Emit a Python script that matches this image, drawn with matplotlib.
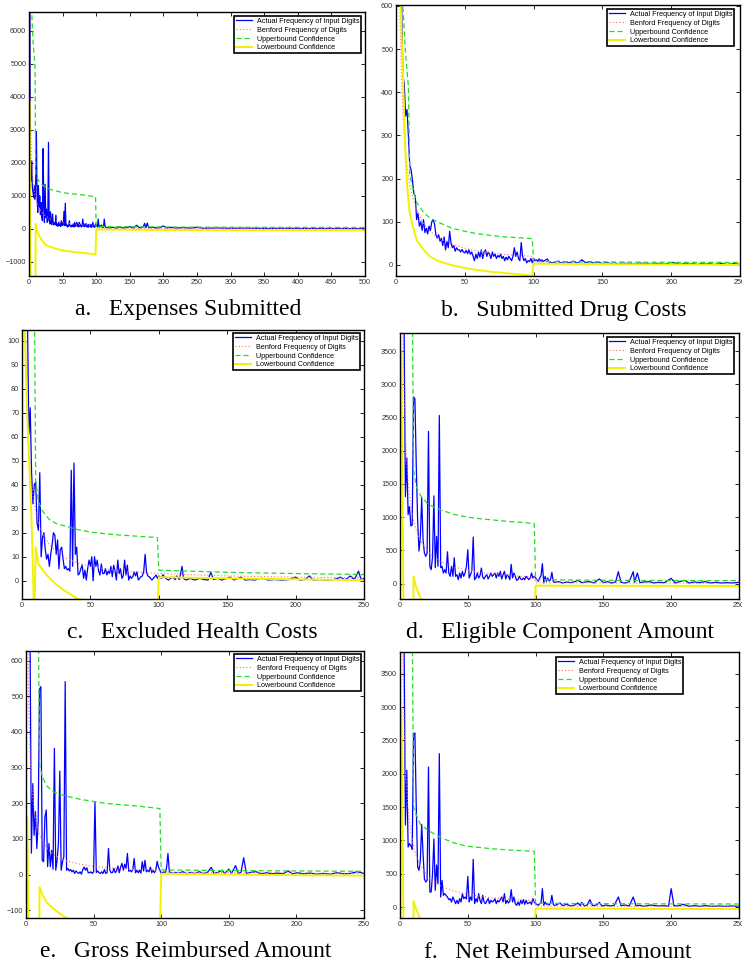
import matplotlib
matplotlib.use("Agg")
import matplotlib.pyplot as plt

# shared x positions for the smooth curves (Benford + confidence bounds)
curve_x = [1, 2, 3, 4, 5, 6, 7, 8, 9, 10, 12, 15, 20, 25, 30, 40, 50, 60,
           70, 80, 90, 99, 100, 150, 200, 250]
curve_x_a = curve_x + [300, 400, 500]

labels = ['Actual Frequency of Input Digits', 'Benford Frequency of Digits',
          'Upperbound Confidence', 'Lowerbound Confidence']

# ---- a. Expenses Submitted ----
a_actual = [9500, 2100, 1450, 2060, 1250, 1100, 950, 1300, 900, 1500,
            2950, 1000, 500, 1320, 650, 1000, 430, 800, 350, 250,
            2430, 700, 200, 1350, 350, 600, 200, 250, 2620, 300,
            150, 520, 180, 130, 450, 220, 120, 180, 130, 420,
            100, 150, 80, 200, 100, 150, 80, 250, 100, 200,
            120, 530, 100, 780, 100, 150, 60, 100, 80, 250,
            100, 80, 60, 120, 70, 150, 60, 200, 80, 120,
            200, 80, 150, 60, 200, 90, 120, 60, 100, 300,
            80, 150, 70, 100, 160, 60, 120, 50, 140, 100,
            60, 140, 50, 80, 200, 60, 100, 50, 150, 80,
            120, 60, 300, 80, 60, 100, 70, 120, 60, 40,
            80, 300, 100, 60, 40]
a_tail_x = [120, 125, 130, 135, 140, 145, 150, 155, 160, 165, 170, 172, 174,
            176, 178, 185, 190, 195, 200, 205, 210, 220, 230, 240, 250, 260,
            280, 300, 320, 350, 380, 400, 450, 500]
a_tail_y = [30, 50, 20, 60, 30, 40, 70, 30, 110, 30, 60, 170, 40,
            180, 40, 50, 30, 40, 90, 30, 50, 30, 40, 25, 50, 20,
            30, 20, 25, 15, 20, 15, 12, 10]
a_benford = [6600, 3870, 2750, 2130, 1740, 1470, 1280, 1120, 1010, 910, 770,
             630, 480, 390, 320, 245, 195, 165, 140, 120, 110, 95, 30, 20,
             15, 12, 10, 8, 6]
a_upper = [14000, 10500, 8200, 6600, 6100, 5700, 5400, 5150, 4900, 1700,
           1550, 1440, 1330, 1255, 1210, 1150, 1100, 1070, 1050, 1030, 1000,
           980, 75, 65, 60, 55, 52, 48, 45]
a_lower = [3850, -900, -2200, -3000, -3400, -3700, -3900, -4000, -4100, 150,
           -50, -200, -370, -480, -530, -600, -650, -680, -705, -725, -745,
           -775, -15, -25, -30, -33, -36, -38, -40]

# ---- b. Submitted Drug Costs ----
b_actual = [1900, 1100, 750, 620, 440, 420, 345, 360, 300, 230,
            220, 195, 165, 160, 105, 120, 90, 100, 80, 105,
            75, 85, 72, 90, 80, 100, 105, 95, 70, 62,
            70, 55, 62, 45, 65, 35, 55, 40, 78, 50,
            40, 45, 32, 40, 35, 35, 30, 36, 30, 28,
            34, 26, 35, 25, 30, 20, 10, 25, 15, 30,
            18, 35, 15, 30, 35, 20, 30, 25, 15, 30,
            20, 25, 15, 22, 18, 25, 15, 20, 10, 18,
            12, 20, 15, 10, 20, 40, 20, 30, 15, 10,
            52, 20, 10, 15, 5, 10, 8, 15, 5, 15,
            10, 12, 8, 14, 10, 12, 8, 10, 12, 14,
            8, 5]
b_tail_x = [115, 118, 120, 123, 126, 129, 132, 135, 138, 141, 144, 147, 150,
            153, 156, 159, 162, 165, 168, 171, 174, 177, 180, 183, 186, 189,
            192, 195, 198, 201, 204, 207, 210, 213, 216, 219, 222, 225, 228,
            231, 234, 237, 240, 243, 246, 250]
b_tail_y = [6, 9, 4, 8, 5, 9, 4, 12, 5, 8, 4, 7, 3,
            6, 3, 5, 2, 5, 3, 4, 2, 5, 3, 4, 2, 4,
            3, 2, 4, 6, 3, 2, 4, 2, 3, 1, 3, 2, 3,
            1, 2, 4, 1, 2, 3, 1]
b_benford = [1355, 790, 560, 435, 355, 300, 260, 230, 205, 185, 158, 127, 96,
             77, 64, 49, 39, 32, 28, 24, 22, 20, 4.5, 3.5, 3, 2.5]
b_upper = [1800, 1200, 900, 700, 600, 540, 490, 450, 413, 210, 180, 145, 122,
           108, 100, 86, 78, 72, 68, 65, 63, 61, 8, 7, 6, 6]
b_lower = [1500, 900, 650, 540, 450, 340, 250, 190, 150, 120, 92, 58, 35,
           19, 10, 0, -7, -12, -16, -19, -22, -25, 3, 2, 1, 0]

# ---- c. Excluded Health Costs ----
c_actual = [250, 180, 140, 110, 61, 72, 45, 32, 40, 41,
            24, 21, 45, 10, 18, 20, 13, 9, 11, 6,
            11, 15, 20, 19, 11, 17, 5, 13, 14, 9,
            5, 6, 4.5, 5, 4, 46, 6, 49, 11, 14,
            2.4, 3, 5, 6.5, 1, 4.4, 0.3, 5, 8.6, 6,
            10, 0, 10, 6, 8.6, 4, 2.4, 7, 3, 3,
            5, 2.4, 4, 3, 6, 1.7, 6.5, 4, 0.3, 8.6,
            3, 5, 1, 2, 8.6, 2.4, 6.5, 0.3, 2, 1,
            1.7, 3.7, 2, 3.7, 0.3, 1, 1.7, 2, 4, 11,
            3.7, 2, 1.7, 1, 0.3, 1, 1.7, 2.4, 1, 2]
c_tail_x = [102, 103, 105, 107, 110, 112, 113, 115, 117, 118, 120, 123, 126,
            130, 133, 136, 138, 140, 143, 146, 150, 152, 155, 160, 163, 167,
            170, 175, 180, 185, 190, 195, 200, 203, 207, 210, 213, 218, 223,
            228, 233, 236, 240, 243, 246, 248, 250]
c_tail_y = [1, 2.5, 1, 0.3, 1.5, 0.5, 2, 0.5, 6, 1, 0.3, 1, 0.3,
            1, 0.5, 0.3, 3.5, 0.5, 1, 0.3, 1, 1.5, 0.3, 1.5, 0.3, 0.5,
            0.3, 1, 0.3, 0.5, 0.3, 0.5, 1.5, 0.3, 0.5, 2, 0.3, 0.5, 0.3,
            0.5, 1.5, 0.3, 2, 0.5, 4, 0.3, 1]
c_benford = [210, 123, 87, 68, 55, 47, 41, 36, 32, 29, 24.5, 19.6, 15, 12,
             10, 7.5, 6.0, 5.0, 4.3, 3.7, 3.3, 3.0, 3.0, 2.0, 1.5, 1.2]
c_upper = [500, 380, 300, 250, 210, 180, 160, 140, 125, 42, 33, 29, 25.5,
           23.8, 23, 21.4, 20.3, 19.6, 19.1, 18.7, 18.3, 18, 4.4, 3.5, 3, 2.6]
c_lower = [130, 104, 85, 68, 52, 39, 25, 5, -20, 14, 7, 4.5, 1.2, -1.5,
           -3.7, -7.3, -9, -10, -11, -12, -12.5, -13, 1.5, 1, 0.6, 0.2]

# ---- d. Eligible Component Amount ----
d_actual = [8000, 5500, 3900, 1310, 1890, 1040, 1160, 870, 880, 2810,
            2780, 1770, 960, 490, 700, 1290, 660, 460, 410, 460,
            2290, 260, 210, 400, 1320, 240, 710, 260, 2530, 240,
            260, 160, 210, 160, 480, 160, 110, 260, 110, 390,
            110, 135, 60, 160, 85, 185, 110, 160, 260, 510,
            85, 135, 200, 700, 60, 85, 160, 85, 120, 235,
            100, 70, 110, 135, 70, 110, 160, 110, 135, 160,
            85, 160, 110, 185, 70, 135, 185, 70, 135, 110,
            60, 290, 85, 160, 110, 50, 60, 110, 70, 60,
            85, 60, 110, 85, 60, 85, 160, 85, 110, 85,
            60, 35, 85, 120, 300, 10, 110, 35, 85, 40,
            60, 170, 35, 20]
d_tail_x = [117, 120, 123, 126, 129, 131, 134, 137, 140, 143, 147, 150, 153,
            156, 159, 161, 163, 166, 169, 172, 173, 175, 177, 180, 184, 187,
            190, 195, 200, 203, 206, 210, 213, 217, 221, 225, 229, 233, 237,
            241, 245, 250]
d_tail_y = [30, 10, 25, 15, 30, 50, 15, 25, 30, 10, 70, 15, 30,
            10, 25, 180, 20, 10, 30, 180, 20, 160, 15, 25, 30, 10,
            20, 15, 80, 10, 30, 50, 10, 25, 15, 30, 10, 20, 10,
            15, 10, 20]
d_benford = [6920, 4050, 2870, 2230, 1820, 1540, 1330, 1180, 1050, 950, 800,
             650, 490, 400, 330, 250, 200, 165, 142, 125, 110, 100, 15, 10,
             8, 6]
d_upper = [12000, 9000, 7500, 6500, 5800, 5300, 4900, 4600, 4400, 1720, 1460,
           1330, 1210, 1150, 1110, 1040, 1000, 975, 955, 935, 920, 905, 60,
           50, 47, 45]
d_lower = [3500, 1000, -1500, -2500, -3000, -3300, -3500, -3700, -3800, 110,
           -60, -215, -330, -400, -450, -520, -570, -610, -640, -660, -680,
           -700, -30, -32, -34, -35]

# ---- e. Gross Reimbursed Amount ----
e_actual = [1500, 1000, 660, 60, 255, 110, 176, 73, 148, 520,
            527, 40, 36, 162, 181, 22, 87, 22, 68, 15,
            354, 12, 40, 87, 290, 12, 36, 50, 541, 12,
            17, 10, 14, 7.5, 12, 3, 10, 5.6, 3, 7.5,
            1, 14, 21, 12, 19, 5, 5, 7.5, 3, 7,
            205, 5.6, 10, 5, 3, 7.5, 3, 14, 3, 5,
            73, 12, 5, 5.6, 17, 5, 10, 24, 5, 21,
            31, 12, 29, 17, 59, 9, 12, 7.5, 14, 45,
            5, 12, 5, 12, 4, 36, 10, 40, 7.5, 12,
            7.5, 21, 5, 12, 5, 12, 37, 21, 12, 3,
            5, 7.5, 3, 20, 59, 10, 3, 5, 2, 6]
e_tail_x = [113, 116, 119, 122, 125, 128, 131, 134, 137, 139, 142, 145, 147,
            150, 152, 155, 157, 159, 161, 163, 166, 170, 174, 178, 182, 186,
            190, 194, 197, 201, 205, 210, 215, 220, 225, 230, 235, 240, 245,
            250]
e_tail_y = [3, 8, 2, 6, 2, 8, 3, 5, 20, 3, 6, 12, 3,
            15, 3, 25, 3, 6, 47, 3, 6, 8, 2, 5, 2, 4,
            2, 10, 2, 5, 2, 4, 1, 3, 1, 5, 2, 3, 8,
            3]
e_benford = [815, 475, 337, 262, 214, 181, 156, 138, 124, 112, 94, 76, 57,
             46, 38, 29, 23, 19, 17, 15, 13, 12, 7, 5, 4, 3]
e_upper = [2500, 1800, 1400, 1200, 1050, 950, 880, 820, 780, 310, 275, 250,
           232, 225, 220, 211, 205, 199, 196, 193, 189, 185, 13, 11, 10, 9]
e_lower = [160, -300, -450, -550, -600, -650, -700, -720, -740, -35, -55,
           -77, -95, -110, -122, -135, -145, -150, -153, -156, -158, -160,
           2, 0, -2, -3]

# ---- f. Net Reimbursed Amount ----
f_actual = [8000, 5000, 4000, 1230, 2050, 900, 950, 920, 860, 2600,
            2610, 1500, 600, 550, 700, 1240, 800, 420, 375, 400,
            2100, 225, 225, 500, 1020, 250, 630, 350, 2300, 150,
            400, 175, 200, 175, 150, 110, 125, 75, 150, 100,
            50, 100, 50, 125, 75, 200, 125, 150, 120, 460,
            75, 150, 100, 715, 50, 125, 75, 200, 100, 50,
            175, 75, 50, 90, 125, 50, 100, 75, 90, 125,
            50, 100, 75, 110, 150, 75, 200, 50, 100, 60,
            90, 260, 75, 150, 50, 25, 75, 25, 100, 50,
            110, 40, 100, 50, 60, 75, 40, 125, 75, 50,
            40, 25, 50, 60, 275, 25, 75, 40, 50, 30,
            60, 175, 40, 20]
f_tail_x = [116, 118, 120, 123, 126, 129, 131, 133, 134, 136, 138, 140, 142,
            145, 147, 149, 152, 155, 158, 161, 163, 166, 169, 172, 174, 177,
            180, 185, 190, 195, 198, 200, 202, 205, 209, 213, 217, 221, 225,
            230, 235, 240, 245, 250]
f_tail_y = [40, 60, 20, 40, 15, 30, 60, 20, 70, 15, 30, 110, 20,
            30, 70, 15, 30, 15, 25, 150, 20, 30, 15, 150, 20, 25,
            10, 30, 15, 20, 10, 275, 20, 15, 40, 10, 20, 10, 20,
            10, 15, 10, 15, 10]
f_benford = [6620, 3870, 2750, 2130, 1740, 1470, 1280, 1130, 1010, 910, 765,
             625, 465, 375, 315, 235, 190, 158, 135, 118, 105, 96, 15, 10,
             8, 6]
f_upper = [12000, 9000, 7500, 6500, 5800, 5300, 4900, 4600, 4400, 1500, 1380,
           1240, 1160, 1100, 1040, 960, 910, 890, 870, 855, 845, 835, 55, 50,
           47, 45]
f_lower = [2980, 1000, -1500, -2500, -3000, -3300, -3500, -3700, -3800, 90,
           -40, -180, -290, -350, -400, -460, -500, -530, -560, -580, -600,
           -620, -25, -27, -29, -30]

W, H = 742, 964
fig = plt.figure(figsize=(W / 100, H / 100), dpi=100)


def px_axes(left, top, right, bottom):
    return fig.add_axes([left / W, 1 - bottom / H, (right - left) / W, (bottom - top) / H])


def draw_panel(box, actual, tail_x, tail_y, cx, benford, upper, lower,
               xmax, ylim, yticks, leg_rt, caption, cap_xy):
    ax = px_axes(*box)
    xs = list(range(1, len(actual) + 1)) + tail_x
    ys = list(actual) + tail_y
    ax.plot(xs, ys, color='#0000ff', lw=0.9, label=labels[0])
    ax.plot(cx, benford, color='#ff6b6b', lw=0.8, ls=(0, (1, 2)), label=labels[1])
    ax.plot(cx, upper, color='#22dd22', lw=0.9, ls=(0, (4, 2.5)), label=labels[2])
    ax.plot(cx, lower, color='#f2f200', lw=1.4, label=labels[3])
    ax.set_xlim(0, xmax)
    ax.set_ylim(*ylim)
    ax.set_xticks(range(0, xmax + 1, 50))
    ax.set_yticks(yticks)
    ax.tick_params(direction='in', length=3, width=0.6, top=True, right=True,
                   labelsize=5.2, pad=2, labelcolor='#333333')
    for s in ax.spines.values():
        s.set_linewidth(1.0)
    leg = ax.legend(loc='upper right', bbox_to_anchor=(leg_rt[0] / W, 1 - leg_rt[1] / H),
                    bbox_transform=fig.transFigure, borderaxespad=0,
                    labelspacing=0.25, borderpad=0.25,
                    handlelength=2.2, handletextpad=0.7, fancybox=False,
                    framealpha=1, prop={'family': 'Liberation Sans', 'size': 5.2})
    leg.get_frame().set_edgecolor('black')
    leg.get_frame().set_linewidth(1.2)
    fig.text(cap_xy[0] / W, 1 - cap_xy[1] / H, caption, family='Liberation Serif',
             fontsize=17, ha='left', va='baseline')
    return ax


plt.rcParams['font.family'] = ['Liberation Sans', 'DejaVu Sans']

draw_panel((29, 12, 365, 276), a_actual, a_tail_x, a_tail_y, curve_x_a,
           a_benford, a_upper, a_lower, 500, (-1424, 6566),
           range(-1000, 6001, 1000), (361, 16), 'a.   Expenses Submitted', (75, 315))
draw_panel((396, 5, 740, 276), b_actual, b_tail_x, b_tail_y, curve_x,
           b_benford, b_upper, b_lower, 250, (-25.5, 602),
           range(0, 601, 100), (734, 9), 'b.   Submitted Drug Costs', (441, 316))
draw_panel((22, 330, 364, 599), c_actual, c_tail_x, c_tail_y, curve_x,
           c_benford, c_upper, c_lower, 250, (-7.6, 104.4),
           range(0, 101, 10), (360, 333), 'c.   Excluded Health Costs', (67, 638))
draw_panel((400, 333, 739, 599), d_actual, d_tail_x, d_tail_y, curve_x,
           d_benford, d_upper, d_lower, 250, (-231, 3771),
           range(0, 3501, 500), (734, 337), 'd.   Eligible Component Amount', (406, 638))
draw_panel((26, 651, 364, 918), e_actual, e_tail_x, e_tail_y, curve_x,
           e_benford, e_upper, e_lower, 250, (-122, 627),
           range(-100, 601, 100), (361, 654), 'e.   Gross Reimbursed Amount', (40, 957))
draw_panel((400, 652, 739, 918), f_actual, f_tail_x, f_tail_y, curve_x,
           f_benford, f_upper, f_lower, 250, (-165, 3825),
           range(0, 3501, 500), (683, 657), 'f.   Net Reimbursed Amount', (424, 958))

fig.savefig('out.png', dpi=100)
